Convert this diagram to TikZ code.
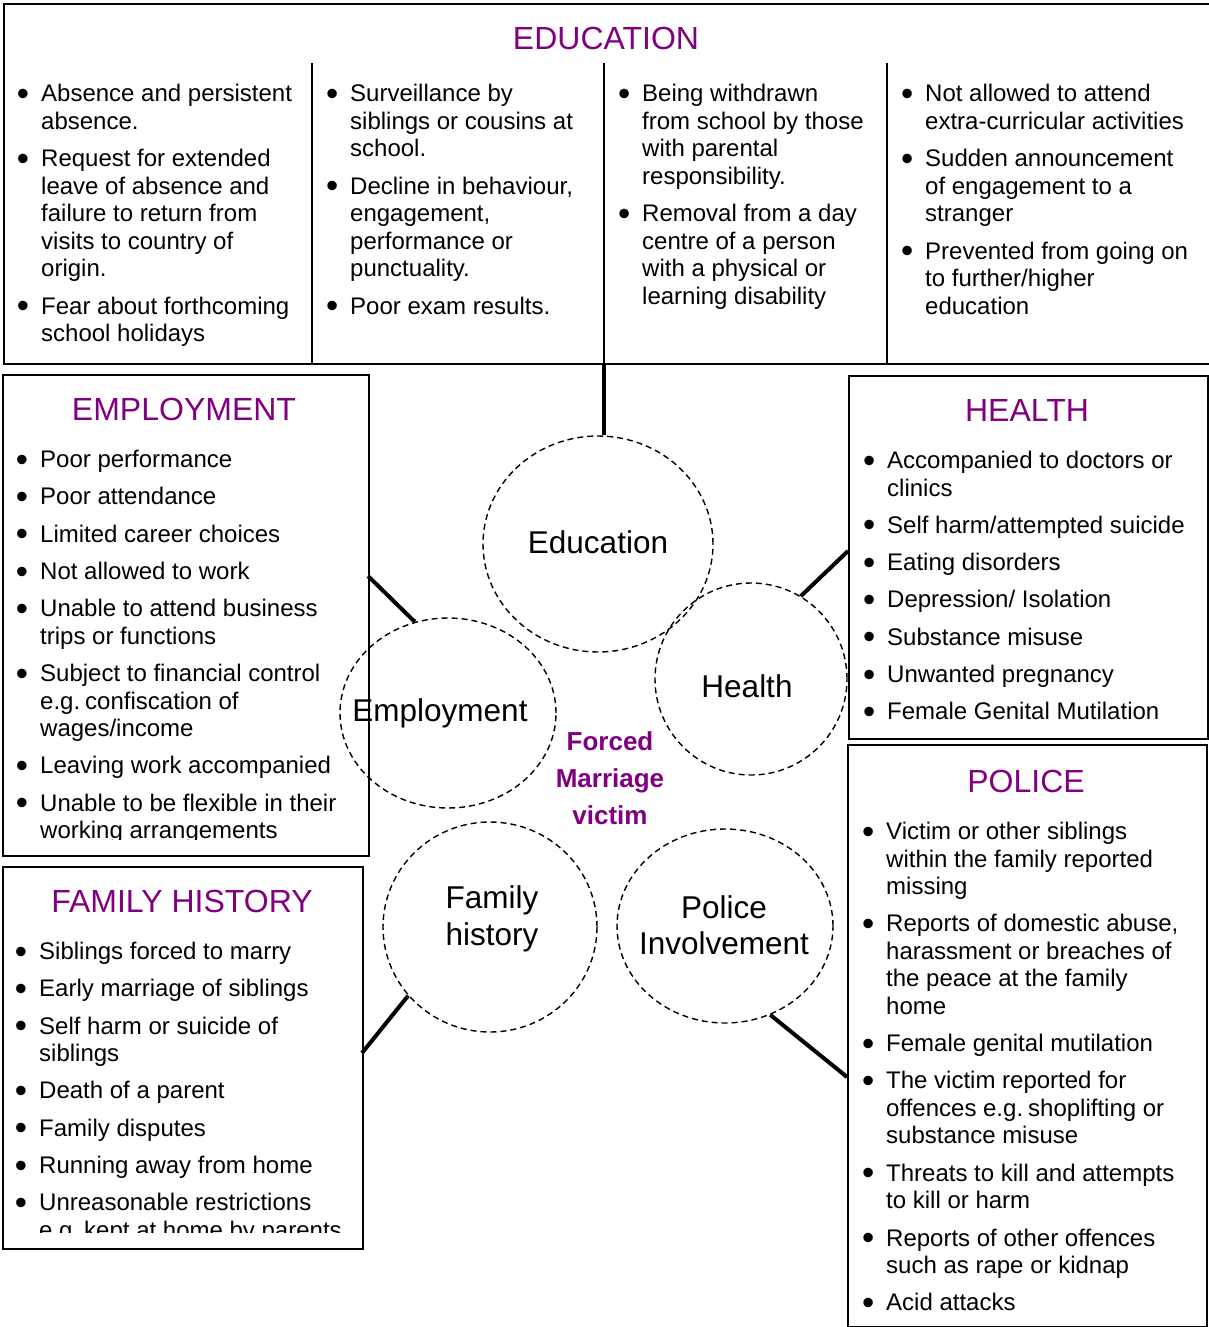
\documentclass[tikz,border=0pt]{standalone}
\usepackage{fontspec}
\usepackage{graphicx}
\setmainfont{Liberation Sans}
\usetikzlibrary{shapes.geometric}
\definecolor{ttl}{RGB}{128,0,128}
\newcommand{\bullbox}{\makebox[23pt][l]{\hspace{-1.2pt}\raisebox{-3.6pt}{\scalebox{1.45}{\textbullet}}}}
\newcommand{\bfirst}{\hangindent=23pt\hangafter=1\noindent\bullbox}
\newcommand{\bi}{\par\hangindent=23pt\hangafter=1\noindent\bullbox}
\newcommand{\lstsetup}{\fontsize{24}{27.5}\selectfont\setlength{\parskip}{9.8pt}\spaceskip=\fontdimen2\font plus \fontdimen3\font\relax}
\begin{document}
\begin{tikzpicture}[x=1pt,y=-1pt,
  box/.style={draw, line width=2pt, inner sep=0pt, anchor=north west},
  divider/.style={line width=2pt},
  lst/.style={anchor=base west, inner sep=0pt, text width=340pt},
  ttlnode/.style={text=ttl, font=\fontsize{32}{36}\selectfont, inner sep=0pt},
  circ/.style={ellipse, draw, dashed, dash pattern=on 6pt off 4pt, line width=1.4pt, inner sep=0pt},
  clabel/.style={font=\fontsize{31.5}{36.5}\selectfont, align=center, inner sep=0pt},
  conn/.style={line width=4pt}]
\useasboundingbox (0,0) rectangle (1208,1327);

% ---------- EDUCATION box ----------
\node[box, minimum width=1215, minimum height=360] (edbox) at (3,3) {};
\node[ttlnode] (edttl) at (606,38) {EDUCATION};
\coordinate (d1t) at (312,63); \coordinate (d1b) at (312,363);
\coordinate (d2t) at (604,63); \coordinate (d2b) at (604,363);
\coordinate (d3t) at (887,63); \coordinate (d3b) at (887,363);
\draw[divider] (d1t) -- (d1b);
\draw[divider] (d2t) -- (d2b);
\draw[divider] (d3t) -- (d3b);

\node[lst] (ec1) at (18,102) {\lstsetup
\bfirst Absence and persistent\newline absence.
\bi Request for extended\newline leave of absence and\newline failure to return from\newline visits to country of\newline origin.
\bi Fear about forthcoming\newline school holidays\par};
\node[lst] (ec2) at (327,102) {\lstsetup
\bfirst Surveillance by\newline siblings or cousins at\newline school.
\bi Decline in behaviour,\newline engagement,\newline performance or\newline punctuality.
\bi Poor exam results.\par};
\node[lst] (ec3) at (619,102) {\lstsetup
\bfirst Being withdrawn\newline from school by those\newline with parental\newline responsibility.
\bi Removal from a day\newline centre of a person\newline with a physical or\newline learning disability\par};
\node[lst] (ec4) at (902,102) {\lstsetup
\bfirst Not allowed to attend\newline extra-curricular activities
\bi Sudden announcement\newline of engagement to a\newline stranger
\bi Prevented from going on\newline to further/higher\newline education\par};

% ---------- EMPLOYMENT box ----------
\node[box, minimum width=366, minimum height=481] (empbox) at (2,374) {};
\node[ttlnode] (empttl) at (184,409) {EMPLOYMENT};
\begin{scope}
\clip (0,374) rectangle (368,839);
\node[lst] (emptxt) at (17,467.5) {\lstsetup
\bfirst Poor performance
\bi Poor attendance
\bi Limited career choices
\bi Not allowed to work
\bi Unable to attend business\newline trips or functions
\bi Subject to financial control\newline e.g. confiscation of\newline wages/income
\bi Leaving work accompanied
\bi Unable to be flexible in their\newline working arrangements\par};
\end{scope}

% ---------- FAMILY HISTORY box ----------
\node[box, minimum width=360, minimum height=382] (fambox) at (2,866) {};
\node[ttlnode] (famttl) at (182,901) {FAMILY HISTORY};
\begin{scope}
\clip (0,866) rectangle (362,1232);
\node[lst] (famtxt) at (16,959.5) {\lstsetup
\bfirst Siblings forced to marry
\bi Early marriage of siblings
\bi Self harm or suicide of\newline siblings
\bi Death of a parent
\bi Family disputes
\bi Running away from home
\bi Unreasonable restrictions\newline e.g. kept at home by parents\par};
\end{scope}

% ---------- HEALTH box ----------
\node[box, minimum width=359, minimum height=363] (heabox) at (848,375) {};
\node[ttlnode] (heattl) at (1027,410) {HEALTH};
\node[lst] (heatxt) at (864,468.5) {\lstsetup
\bfirst Accompanied to doctors or\newline clinics
\bi Self harm/attempted suicide
\bi Eating disorders
\bi Depression/ Isolation
\bi Substance misuse
\bi Unwanted pregnancy
\bi Female Genital Mutilation\par};

% ---------- POLICE box ----------
\node[box, minimum width=359, minimum height=582] (polbox) at (847,744) {};
\node[ttlnode] (polttl) at (1026,781) {POLICE};
\node[lst] (poltxt) at (863,839.5) {\lstsetup
\bfirst Victim or other siblings\newline within the family reported\newline missing
\bi Reports of domestic abuse,\newline harassment or breaches of\newline the peace at the family\newline home
\bi Female genital mutilation
\bi The victim reported for\newline offences e.g. shoplifting or\newline substance misuse
\bi Threats to kill and attempts\newline to kill or harm
\bi Reports of other offences\newline such as rape or kidnap
\bi Acid attacks\par};

% ---------- circles ----------
\node[circ, minimum width=230, minimum height=216] (edu) at (598,544) {};
\node[circ, minimum width=216, minimum height=190] (emp) at (448,713) {};
\node[circ, minimum width=192, minimum height=192] (hea) at (751,679) {};
\node[circ, minimum width=214, minimum height=210] (fam) at (490,927) {};
\node[circ, minimum width=216, minimum height=194] (pol) at (725,926) {};

\node[clabel] (edul) at (598,542) {Education};
\node[clabel] (empl) at (440,713) {Employment};
\node[clabel] (heal) at (747,686) {Health};
\node[clabel] (faml) at (492,919) {Family\\history};
\node[clabel] (poll) at (724,925) {Police\\Involvement};
\node[align=center, inner sep=0pt, text=ttl, font=\fontsize{26}{37}\selectfont\bfseries] (fmv) at (610,778) {Forced\\Marriage\\victim};

% ---------- connectors ----------
\coordinate (edcon) at (604,364);
\coordinate (empcon) at (368,576);
\coordinate (heacon) at (848,551);
\coordinate (famcon) at (362,1053);
\coordinate (polcon) at (847,1077);
\draw[conn] (edcon) -- (edcon |- edu.north);
\draw[conn] (empcon) -- (emp.110);
\draw[conn] (heacon) -- (hea.59);
\draw[conn] (famcon) -- (fam.220);
\draw[conn] (polcon) -- (pol.297);
\end{tikzpicture}
\end{document}
